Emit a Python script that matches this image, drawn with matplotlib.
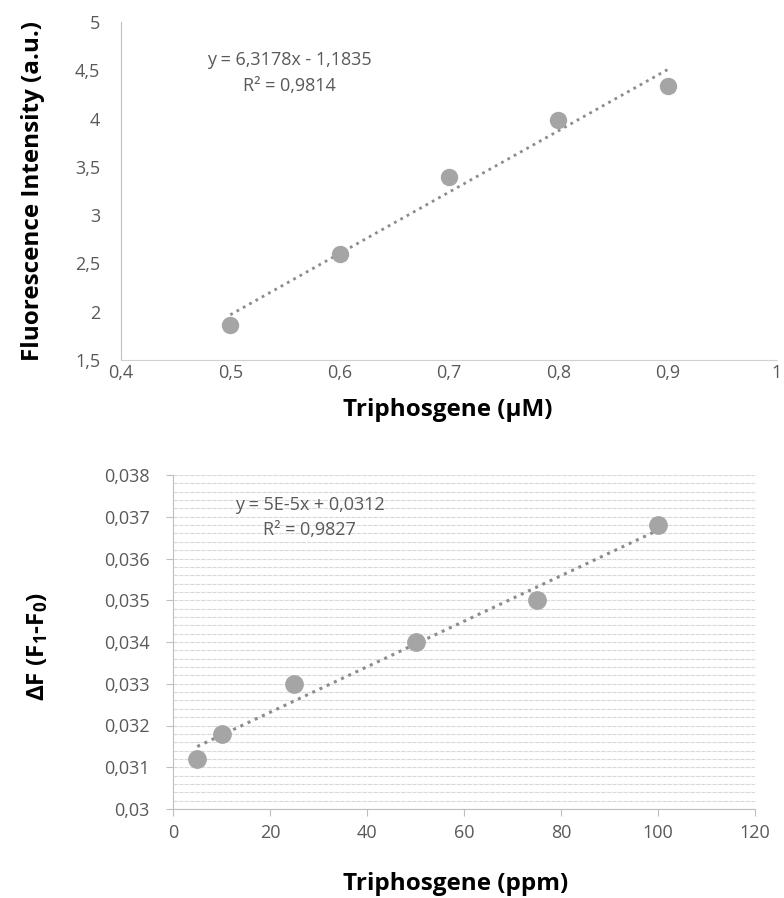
import numpy as np
import matplotlib
matplotlib.use('Agg')
from matplotlib import pyplot as plt
from matplotlib.ticker import MultipleLocator, FuncFormatter

plt.rcParams['font.family'] = ['Open Sans', 'DejaVu Sans']
plt.rcParams['mathtext.default'] = 'regular'

# top panel: fluorescence vs triphosgene (uM)
conc_um = [0.5, 0.6, 0.7, 0.8, 0.9]
intensity = [1.86, 2.60, 3.40, 3.99, 4.34]
eq_top = 'y = 6,3178x - 1,1835'
r2_top = 'R² = 0,9814'

# bottom panel: delta F vs triphosgene (ppm)
conc_ppm = [5, 10, 25, 50, 75, 100]
delta_f = [0.0312, 0.0318, 0.0330, 0.0340, 0.0350, 0.0368]
eq_bot = 'y = 5E-5x + 0,0312'
r2_bot = 'R² = 0,9827'

tick_col = '#595959'
pt_col = '#a5a5a5'
line_col = '#8c8c8c'
spine_col = '#bfbfbf'


def comma(v, pos):
    return '{:g}'.format(v).replace('.', ',')


fig = plt.figure(figsize=(7.84, 8.98), dpi=100)

# ---- top ----
ax1 = fig.add_axes([121/784, 1-360/898, 656/784, 338/898])
ax1.plot(conc_um, intensity, 'o', color=pt_col, ms=11.5, zorder=3)
p = np.polyfit(conc_um, intensity, 1)
xx = np.array([conc_um[0], conc_um[-1]])
ax1.plot(xx, np.polyval(p, xx), color=line_col, lw=2, ls=(0, (1, 1.6)), zorder=2)
ax1.set_xlim(0.4, 1.0)
ax1.set_ylim(1.5, 5)
ax1.xaxis.set_major_locator(MultipleLocator(0.1))
ax1.yaxis.set_major_locator(MultipleLocator(0.5))
ax1.xaxis.set_major_formatter(FuncFormatter(comma))
ax1.yaxis.set_major_formatter(FuncFormatter(comma))
ax1.tick_params(length=0, labelsize=13, labelcolor=tick_col)
ax1.tick_params(axis='x', pad=3)
ax1.tick_params(axis='y', pad=15)
for s in ['top', 'right']:
    ax1.spines[s].set_visible(False)
ax1.spines['left'].set_color(spine_col)
ax1.spines['bottom'].set_color('#d0d0d0')
ax1.spines['bottom'].set_linestyle((0, (2, 1)))
ax1.set_xlabel('Triphosgene (µM)', fontsize=17.5, fontweight='bold')
ax1.set_ylabel('Fluorescence Intensity (a.u.)', fontsize=17.5, fontweight='bold')
ax1.xaxis.set_label_coords(0.498, -0.148)
ax1.yaxis.set_label_coords(-0.134, 0.5)
ax1.xaxis.label.set_va('center')
ax1.yaxis.label.set_va('center')
ax1.text(0.554, 4.607, eq_top, ha='center', va='center', fontsize=13, color=tick_col)
ax1.text(0.554, 4.337, r2_top, ha='center', va='center', fontsize=13, color=tick_col)

# ---- bottom ----
ax2 = fig.add_axes([173/784, 1-809/898, 582/784, 334/898])
ax2.plot(conc_ppm, delta_f, 'o', color=pt_col, ms=12.5, zorder=3)
p2 = np.polyfit(conc_ppm, delta_f, 1)
xx2 = np.array([conc_ppm[0], conc_ppm[-1]])
ax2.plot(xx2, np.polyval(p2, xx2), color=line_col, lw=2.2, ls=(0, (1, 1.6)), zorder=2)
ax2.set_xlim(0, 120)
ax2.set_ylim(0.030, 0.038)
ax2.xaxis.set_major_locator(MultipleLocator(20))
ax2.yaxis.set_major_locator(MultipleLocator(0.001))
ax2.yaxis.set_minor_locator(MultipleLocator(0.0002))
ax2.xaxis.set_major_formatter(FuncFormatter(comma))
ax2.yaxis.set_major_formatter(FuncFormatter(comma))
ax2.grid(axis='y', which='both', color='#d9d9d9', lw=0.8, ls=(0, (4, 1)))
ax2.set_axisbelow(True)
ax2.tick_params(which='major', length=5, color=spine_col, labelsize=13, labelcolor=tick_col)
ax2.tick_params(axis='x', pad=6)
ax2.tick_params(axis='y', pad=12)
ax2.tick_params(which='minor', length=0)
for s in ['top', 'right']:
    ax2.spines[s].set_visible(False)
ax2.spines['left'].set_color(spine_col)
ax2.spines['bottom'].set_color(spine_col)
ax2.set_xlabel('Triphosgene (ppm)', fontsize=17.5, fontweight='bold')
ax2.set_ylabel('ΔF (F$_1$-F$_0$)', fontsize=17.5, fontweight='bold')
ax2.xaxis.set_label_coords(0.485, -0.225)
ax2.yaxis.set_label_coords(-0.232, 0.485)
ax2.xaxis.label.set_va('center')
ax2.yaxis.label.set_va('center')
ax2.text(28.2, 0.03728, eq_bot, ha='center', va='center', fontsize=13, color=tick_col)
ax2.text(28.2, 0.03668, r2_bot, ha='center', va='center', fontsize=13, color=tick_col)

fig.savefig('out.png', dpi=100)
